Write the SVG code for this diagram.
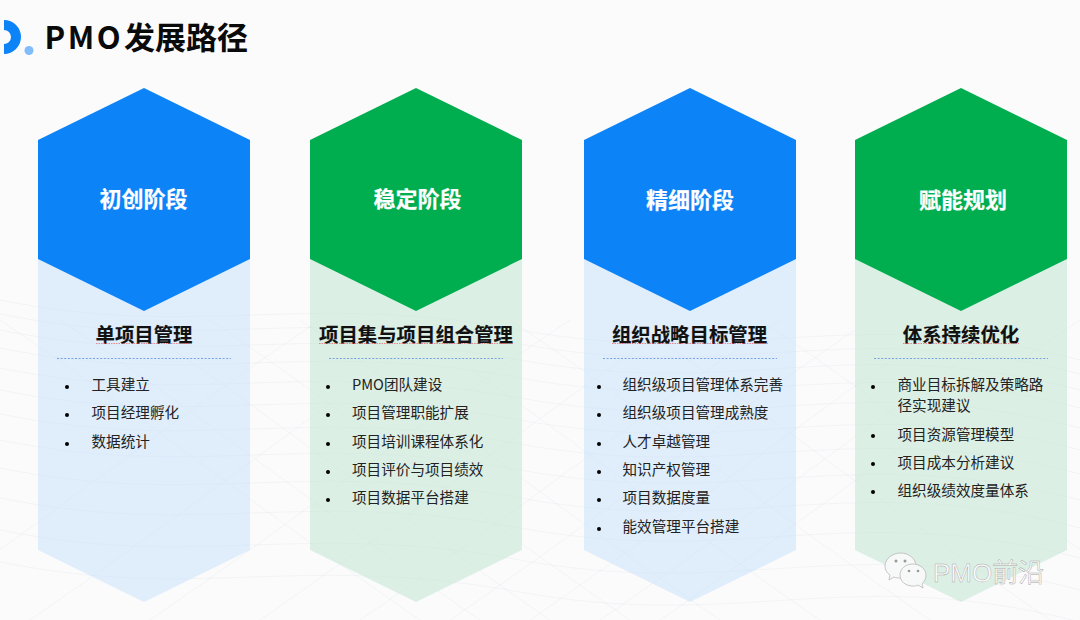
<svg xmlns="http://www.w3.org/2000/svg" xmlns:xlink="http://www.w3.org/1999/xlink" width="1080" height="620" viewBox="0 0 1080 620">
<style>
text{font-family:"Liberation Sans","Noto Sans CJK SC",sans-serif}
.cjk{font-family:"Noto Sans CJK SC","Liberation Sans",sans-serif}
.hex{font-size:22px;font-weight:700;fill:#fff;text-anchor:middle;stroke:#fff;stroke-width:.2}
.sub{font-size:19.4px;font-weight:700;fill:#111;text-anchor:middle;stroke:#111;stroke-width:.15}
.li{font-size:14.6px;fill:#222}
.dot{fill:#000}
.blue{fill:#0d83f8}.green{fill:#00ae4f}
.pb{fill:#cfe4fa;fill-opacity:.62}.pg{fill:#c5e6d3;fill-opacity:.56}
.dash{stroke:#5b8fe0;stroke-width:.8;stroke-dasharray:2 1.6;fill:none}
.sq{stroke:#e8505b;stroke-width:.8;fill:none;stroke-dasharray:1.5 1;opacity:.8}
.w{fill:none;stroke:#d0d6de;stroke-width:.5;opacity:.4}
</style>
<defs>
<path id="wa" class="w" d="M0 300C200 340 300 290 520 330S850 300 1080 360"/>
<path id="wb" class="w" d="M0 320C120 400 260 510 420 620"/>
<path id="wc" class="w" d="M1080 320C960 400 820 510 660 620"/>
</defs>
<rect width="1080" height="620" fill="#fbfbfc"/>
<g id="background-waves">
<use xlink:href="#wa"/><use xlink:href="#wa" y="14"/><use xlink:href="#wa" y="30"/><use xlink:href="#wa" y="48"/><use xlink:href="#wa" y="68"/><use xlink:href="#wa" y="90"/><use xlink:href="#wa" y="114"/><use xlink:href="#wa" y="140"/><use xlink:href="#wa" y="168"/><use xlink:href="#wa" y="198"/><use xlink:href="#wa" y="230"/><use xlink:href="#wa" y="262"/>
<use xlink:href="#wb"/><use xlink:href="#wb" x="60"/><use xlink:href="#wb" x="130"/><use xlink:href="#wb" x="210"/><use xlink:href="#wb" x="300"/><use xlink:href="#wb" x="400"/><use xlink:href="#wb" x="510"/><use xlink:href="#wb" x="630"/><use xlink:href="#wb" x="760"/>
<use xlink:href="#wc"/><use xlink:href="#wc" x="-60"/><use xlink:href="#wc" x="-130"/><use xlink:href="#wc" x="-210"/><use xlink:href="#wc" x="-300"/><use xlink:href="#wc" x="-400"/><use xlink:href="#wc" x="-510"/><use xlink:href="#wc" x="-630"/><use xlink:href="#wc" x="-760"/>
</g>
<g id="logo">
<path d="M4 20A17 17 0 0 1 4 54V44A7 7 0 0 0 4 30Z" fill="#0d83f8"/>
<circle cx="29" cy="50.500" r="4.500" fill="#82bdfb"/>
</g>
<text id="title" y="48.500" class="cjk" font-size="31" font-weight="700" fill="#0a0a0a"><tspan x="44.500" letter-spacing="2.600">PMO</tspan><tspan x="124">发展路径</tspan></text>

<g id="stage-1">
<polygon class="pb" points="38,259 250,259 250,550 144,602 38,550"/>
<polygon class="blue" points="144,88 250,140 250,259 144,311 38,259 38,140"/>
<text class="hex cjk" x="143.500" y="207">初创阶段</text>
<text class="sub cjk" x="144" y="341.500">单项目管理</text>
<path class="sq" d="M96 343.500H192"/><path class="dash" d="M57 358.500H231"/>
<g><circle class="dot" cx="67" cy="387" r="2"/><text class="li cjk" x="91.500" y="390">工具建立</text>
<circle class="dot" cx="67" cy="415" r="2"/><text class="li cjk" x="91.500" y="418">项目经理孵化</text>
<circle class="dot" cx="67" cy="444" r="2"/><text class="li cjk" x="91.500" y="447">数据统计</text></g>
</g>

<g id="stage-2">
<polygon class="pg" points="310,259 522,259 522,550 416,602 310,550"/>
<polygon class="green" points="416,88 522,140 522,259 416,311 310,259 310,140"/>
<text class="hex cjk" x="417.500" y="207">稳定阶段</text>
<text class="sub cjk" x="416" y="341.500">项目集与项目组合管理</text>
<path class="sq" d="M319 343.500H513"/><path class="dash" d="M329 358.500H503"/>
<g><circle class="dot" cx="328" cy="387" r="2"/><text class="li cjk" x="352" y="390">PMO团队建设</text>
<circle class="dot" cx="328" cy="415" r="2"/><text class="li cjk" x="352" y="418">项目管理职能扩展</text>
<circle class="dot" cx="328" cy="444" r="2"/><text class="li cjk" x="352" y="447">项目培训课程体系化</text>
<circle class="dot" cx="328" cy="472" r="2"/><text class="li cjk" x="352" y="475">项目评价与项目绩效</text>
<circle class="dot" cx="328" cy="500" r="2"/><text class="li cjk" x="352" y="503">项目数据平台搭建</text></g>
</g>

<g id="stage-3">
<polygon class="pb" points="584,259 796,259 796,550 690,602 584,550"/>
<polygon class="blue" points="690,88 796,140 796,259 690,311 584,259 584,140"/>
<text class="hex cjk" x="690" y="207.500">精细阶段</text>
<text class="sub cjk" x="689.500" y="341.500">组织战略目标管理</text>
<path class="sq" d="M612 343.500H768"/><path class="dash" d="M603 358.500H777"/>
<g><circle class="dot" cx="599" cy="387" r="2"/><text class="li cjk" x="622.500" y="390">组织级项目管理体系完善</text>
<circle class="dot" cx="599" cy="415" r="2"/><text class="li cjk" x="622.500" y="418">组织级项目管理成熟度</text>
<circle class="dot" cx="599" cy="444" r="2"/><text class="li cjk" x="622.500" y="447">人才卓越管理</text>
<circle class="dot" cx="599" cy="472" r="2"/><text class="li cjk" x="622.500" y="475">知识产权管理</text>
<circle class="dot" cx="599" cy="500" r="2"/><text class="li cjk" x="622.500" y="503">项目数据度量</text>
<circle class="dot" cx="599" cy="529" r="2"/><text class="li cjk" x="622.500" y="532">能效管理平台搭建</text></g>
</g>

<g id="stage-4">
<polygon class="pg" points="855,259 1067,259 1067,550 961,602 855,550"/>
<polygon class="green" points="961,88 1067,140 1067,259 961,311 855,259 855,140"/>
<text class="hex cjk" x="963" y="207.500">赋能规划</text>
<text class="sub cjk" x="961" y="341.500">体系持续优化</text>
<path class="sq" d="M903 343.500H1019"/><path class="dash" d="M874 358.500H1048"/>
<g><circle class="dot" cx="873" cy="387" r="2"/><text class="li cjk" x="897.500" y="390">商业目标拆解及策略路</text><text class="li cjk" x="897.500" y="411">径实现建议</text>
<circle class="dot" cx="873" cy="436" r="2"/><text class="li cjk" x="897.500" y="440">项目资源管理模型</text>
<circle class="dot" cx="873" cy="464" r="2"/><text class="li cjk" x="897.500" y="468">项目成本分析建议</text>
<circle class="dot" cx="873" cy="492" r="2"/><text class="li cjk" x="897.500" y="496">组织级绩效度量体系</text></g>
</g>

<g id="watermark">
<path d="M901 553C892 553 885 559 885 566C885 570 887 573 890 575L889 580L894 577C896 578 898 578 901 578C909 578 916 572 916 566C916 559 909 553 901 553Z" fill="#f7f9f8" stroke="#b8b8b8" stroke-width=".8"/>
<path d="M913 564C905 564 900 569 900 575C900 581 905 586 913 586C915 586 916 586 918 585L923 588L922 584C924 582 926 579 926 575C926 569 920 564 913 564Z" fill="#f7f9f8" stroke="#b8b8b8" stroke-width=".8"/>
<circle cx="896" cy="561" r="1.500" fill="#999"/><circle cx="905" cy="561" r="1.500" fill="#999"/>
<circle cx="909" cy="571" r="1.300" fill="#999"/><circle cx="918" cy="571" r="1.300" fill="#999"/>
<text x="933" y="581.500" font-size="26" fill="#fbfbfb" stroke="#a8a8a8" stroke-width=".45">PMO<tspan class="cjk">前沿</tspan></text>
</g>
</svg>
